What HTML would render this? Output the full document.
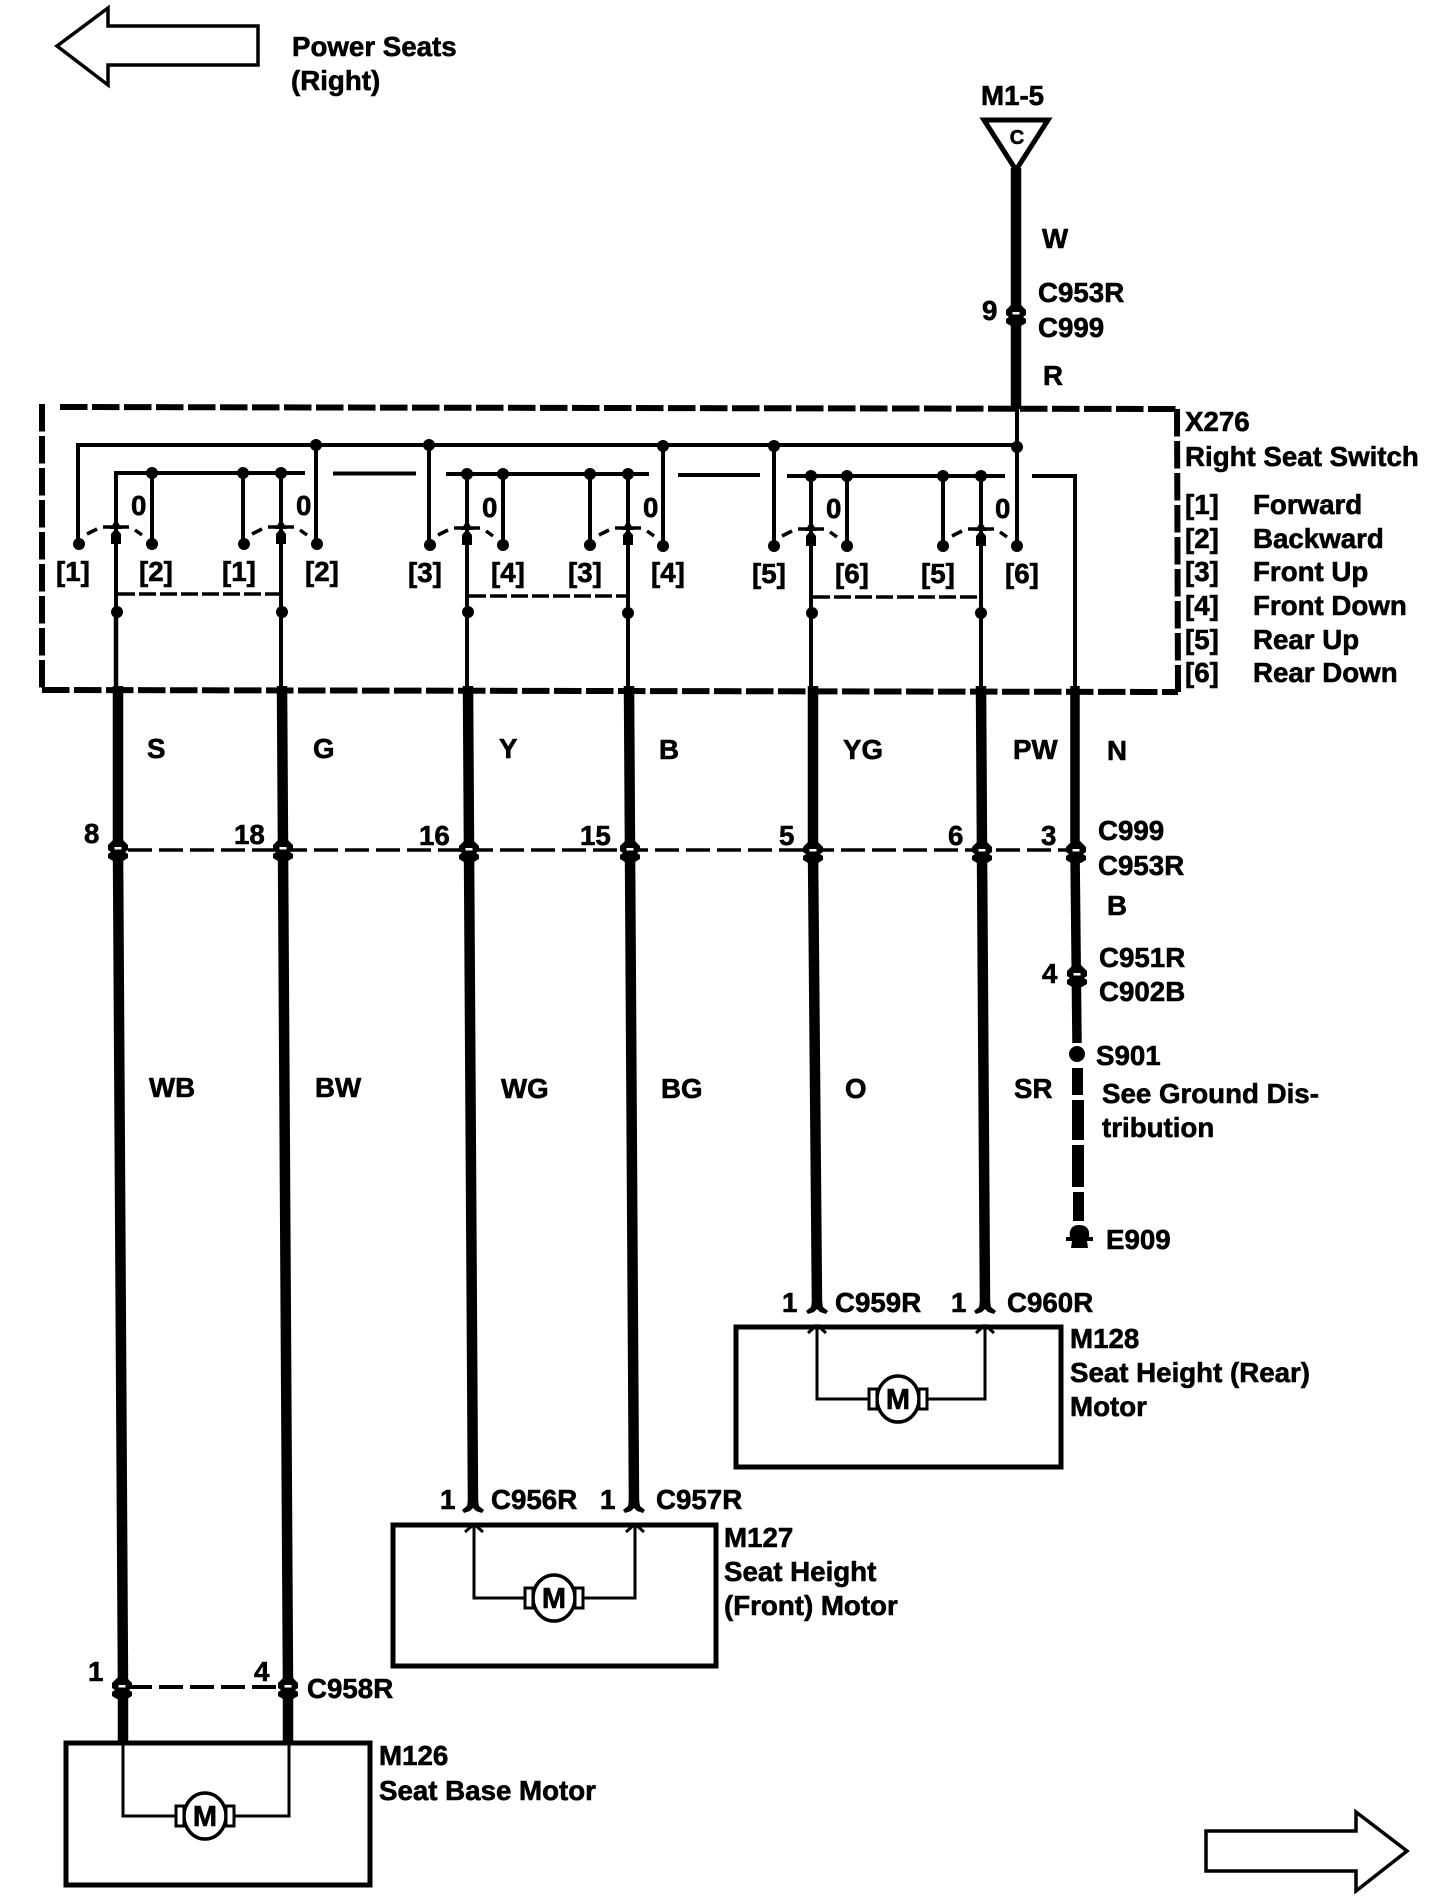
<!DOCTYPE html>
<html>
<head>
<meta charset="utf-8">
<style>
html,body{margin:0;padding:0;background:#fff}
svg{display:block}
text{font-family:"Liberation Sans",sans-serif;font-weight:bold;font-size:27.7px;fill:#000;stroke:#000;stroke-width:.6px}
</style>
</head>
<body>
<svg width="1440" height="1902" viewBox="0 0 1440 1902" xmlns="http://www.w3.org/2000/svg">
<defs>
<g id="sw">
<path d="M-13,0H13" stroke="#000" stroke-width="3.5" fill="none"/>
<path d="M-29,7L-19,2M19,3L26,8" stroke="#000" stroke-width="3.5" fill="none"/>
<path d="M0,-8L6,2H-6Z" fill="#000"/>
<path d="M0,1L5,7V17H-5V7Z" fill="#000"/>
</g>
<g id="conn">
<path d="M-4,-10H4L10,-4V1L7,3L10,5V9L5,12H-5L-10,9V5L-7,3L-10,1V-4Z" fill="#000"/>
<rect x="-3.5" y="-2" width="7" height="2.5" fill="#fff"/>
</g>
<g id="flare">
<path d="M-5,-10L-6,-4L-11,0L-9,3L-3,1L0,-2L3,1L9,3L11,0L6,-4L5,-10Z" fill="#000"/>
</g>
<g id="head">
<path d="M0,0V10M0,0L-9,8M0,0L9,8" stroke="#000" stroke-width="3" fill="none"/>
</g>
<g id="motor">
<ellipse cx="0" cy="0" rx="21" ry="23" fill="#fff" stroke="#000" stroke-width="3.5"/>
<rect x="-29" y="-10" width="8" height="20" fill="#fff" stroke="#000" stroke-width="3"/>
<rect x="21" y="-10" width="8" height="20" fill="#fff" stroke="#000" stroke-width="3"/>
<text x="0" y="10" text-anchor="middle" style="font-size:29px">M</text>
</g>
</defs>

<!-- page arrows -->
<path d="M57,46L108,8V26H258V65H108V85Z" fill="#fff" stroke="#000" stroke-width="3.5" stroke-linejoin="miter"/>
<path d="M1206,1831H1356V1812L1407,1851L1356,1891V1871H1206Z" fill="#fff" stroke="#000" stroke-width="3.5"/>
<text x="292" y="56">Power Seats</text>
<text x="291" y="90">(Right)</text>

<!-- switch box -->
<g fill="none" stroke="#000" stroke-width="6" stroke-dasharray="27.5 4.5">
<path d="M60,407L1177,409"/>
<path d="M42,404V690"/>
<path d="M42,690L1178,692"/>
<path d="M1177,409L1178,692"/>
</g>

<!-- switch buses -->
<g fill="none" stroke="#000" stroke-width="4">
<path d="M78,544V445H1017"/>
<path d="M116,612V473H305"/>
<path d="M333,473.5H416"/>
<path d="M446,474H649"/>
<path d="M678,475H760"/>
<path d="M787,476H1005"/>
<path d="M1032,476H1075V690"/>
<path d="M152,473V544M243,473V544M281,473V690M316,445V544M429,445V544"/>
<path d="M467,474V690M503,474V546M590,474V546M628,474V690M663,446V546"/>
<path d="M774,446V546M811,476V690M847,476V546M943,476V546M981,476V690"/>
<path d="M1017,409V546"/>
<path d="M116,612V690" stroke-width="4.5"/>
</g>
<g fill="none" stroke="#000" stroke-width="3.5" stroke-dasharray="17 4">
<path d="M118,594H281"/>
<path d="M469,596H628"/>
<path d="M813,597H981"/>
</g>

<!-- switch dots -->
<g fill="#000">
<circle cx="316" cy="445" r="6"/><circle cx="429" cy="445" r="6"/><circle cx="663" cy="446" r="6"/><circle cx="774" cy="446" r="6"/><circle cx="1017" cy="447" r="6"/>
<circle cx="152" cy="473" r="6"/><circle cx="243" cy="473" r="6"/><circle cx="281" cy="473" r="6"/>
<circle cx="467" cy="474" r="6"/><circle cx="503" cy="474" r="6"/><circle cx="590" cy="474" r="6"/><circle cx="628" cy="474" r="6"/>
<circle cx="811" cy="476" r="6"/><circle cx="847" cy="476" r="6"/><circle cx="943" cy="476" r="6"/><circle cx="981" cy="476" r="6"/>
<circle cx="79" cy="544" r="6"/><circle cx="152" cy="544" r="6"/><circle cx="244" cy="544" r="6"/><circle cx="317" cy="544" r="6"/>
<circle cx="430" cy="545" r="6"/><circle cx="503" cy="545" r="6"/><circle cx="590" cy="545" r="6"/><circle cx="663" cy="546" r="6"/>
<circle cx="774" cy="546" r="6"/><circle cx="847" cy="546" r="6"/><circle cx="943" cy="546" r="6"/><circle cx="1017" cy="546" r="6"/>
<circle cx="117" cy="612" r="6"/><circle cx="282" cy="612" r="6"/><circle cx="468" cy="612" r="6"/><circle cx="628" cy="613" r="6"/><circle cx="812" cy="613" r="6"/><circle cx="981" cy="613" r="6"/>
</g>
<use href="#sw" x="116" y="527"/><use href="#sw" x="281" y="527"/>
<use href="#sw" x="467" y="528"/><use href="#sw" x="628" y="528"/>
<use href="#sw" x="811" y="529"/><use href="#sw" x="981" y="529"/>

<!-- thick wires -->
<g fill="none" stroke="#000" stroke-width="10.5">
<path d="M1016,168V409"/>
<path d="M118,686V850L123,1687V1743"/>
<path d="M282,686L283,850L288,1687V1743"/>
<path d="M468,686L469,850L473,1505"/>
<path d="M629,686L630,850L634,1505"/>
<path d="M813,686V852L817,1306"/>
<path d="M981,686L982,852L985,1306"/>
<path d="M1075,686V852L1077,1043" stroke-width="9.5"/>
</g>

<!-- triangle -->
<path d="M984,120H1048L1016,170Z" fill="#fff" stroke="#000" stroke-width="5"/>
<text x="1017" y="144" text-anchor="middle" style="font-size:20px">C</text>

<!-- connector row -->
<path d="M128,850H1070" fill="none" stroke="#000" stroke-width="3.5" stroke-dasharray="24 7"/>
<path d="M128,1687H280" fill="none" stroke="#000" stroke-width="4" stroke-dasharray="24 7"/>
<use href="#conn" x="118" y="849"/><use href="#conn" x="283" y="849"/><use href="#conn" x="469" y="850"/><use href="#conn" x="630" y="850"/><use href="#conn" x="813" y="851"/><use href="#conn" x="982" y="851"/><use href="#conn" x="1076" y="851"/>
<use href="#conn" x="1016" y="314"/><use href="#conn" x="1077" y="975"/>
<use href="#conn" x="122" y="1687"/><use href="#conn" x="288" y="1687"/>

<!-- ground wire -->
<circle cx="1077" cy="1054" r="8" fill="#000"/>
<g fill="#000">
<rect x="1072" y="1068" width="11" height="27"/>
<rect x="1072" y="1100" width="12" height="40"/>
<rect x="1072" y="1145" width="12" height="42"/>
<rect x="1073" y="1192" width="11" height="29"/>
<path d="M1079,1225C1088,1225 1090,1231 1089,1237H1093V1241H1087L1088,1248H1071L1072,1241H1066V1237H1070C1069,1231 1071,1225 1079,1225Z"/>
</g>

<!-- wire end flares -->
<use href="#flare" x="817" y="1311"/><use href="#flare" x="985" y="1311"/>
<use href="#flare" x="473" y="1510"/><use href="#flare" x="634" y="1510"/>

<!-- M128 -->
<rect x="736" y="1327" width="325" height="140" fill="none" stroke="#000" stroke-width="5"/>
<path d="M817,1327V1399H985V1327" fill="none" stroke="#000" stroke-width="3"/>
<use href="#head" x="817" y="1325"/><use href="#head" x="985" y="1325"/>
<use href="#motor" x="898" y="1399"/>

<!-- M127 -->
<rect x="393" y="1525" width="323" height="141" fill="none" stroke="#000" stroke-width="5"/>
<path d="M474,1525V1598H635V1525" fill="none" stroke="#000" stroke-width="3"/>
<use href="#head" x="474" y="1524"/><use href="#head" x="635" y="1524"/>
<use href="#motor" x="554" y="1598"/>

<!-- M126 -->
<rect x="66" y="1743" width="304" height="142" fill="none" stroke="#000" stroke-width="5"/>
<path d="M123,1743V1816H289V1743" fill="none" stroke="#000" stroke-width="3"/>
<use href="#motor" x="205" y="1816"/>

<!-- labels top -->
<text x="981" y="105">M1-5</text>
<text x="1042" y="248">W</text>
<text x="1038" y="302">C953R</text>
<text x="982" y="320">9</text>
<text x="1038" y="337">C999</text>
<text x="1043" y="385">R</text>
<text x="1185" y="431">X276</text>
<text x="1185" y="466">Right Seat Switch</text>
<text x="1185" y="514">[1]</text><text x="1253" y="514">Forward</text>
<text x="1185" y="548">[2]</text><text x="1253" y="548">Backward</text>
<text x="1185" y="581">[3]</text><text x="1253" y="581">Front Up</text>
<text x="1185" y="615">[4]</text><text x="1253" y="615">Front Down</text>
<text x="1185" y="649">[5]</text><text x="1253" y="649">Rear Up</text>
<text x="1185" y="682">[6]</text><text x="1253" y="682">Rear Down</text>

<!-- switch labels -->
<text x="131" y="515">0</text><text x="296" y="515">0</text><text x="482" y="517">0</text><text x="643" y="517">0</text><text x="826" y="518">0</text><text x="995" y="518">0</text>
<text x="56" y="581">[1]</text><text x="139" y="581">[2]</text><text x="222" y="581">[1]</text><text x="305" y="581">[2]</text>
<text x="408" y="582">[3]</text><text x="491" y="582">[4]</text><text x="568" y="582">[3]</text><text x="651" y="582">[4]</text>
<text x="752" y="583">[5]</text><text x="835" y="583">[6]</text><text x="921" y="583">[5]</text><text x="1005" y="583">[6]</text>

<!-- wire colours -->
<text x="147" y="758">S</text><text x="313" y="758">G</text><text x="499" y="758">Y</text><text x="659" y="759">B</text>
<text x="843" y="759">YG</text><text x="1013" y="759">PW</text><text x="1107" y="760">N</text>
<text x="84" y="843">8</text><text x="234" y="844">18</text><text x="419" y="845">16</text><text x="580" y="845">15</text><text x="779" y="845">5</text><text x="948" y="845">6</text><text x="1041" y="845">3</text>
<text x="1098" y="840">C999</text><text x="1098" y="875">C953R</text>
<text x="1107" y="915">B</text>
<text x="1099" y="967">C951R</text><text x="1042" y="983">4</text><text x="1099" y="1001">C902B</text>
<text x="1096" y="1065">S901</text>
<text x="1102" y="1103">See Ground Dis-</text>
<text x="1102" y="1137">tribution</text>
<text x="1106" y="1249">E909</text>
<text x="149" y="1097">WB</text><text x="315" y="1097">BW</text><text x="501" y="1098">WG</text><text x="661" y="1098">BG</text><text x="845" y="1098">O</text><text x="1014" y="1098">SR</text>

<!-- connectors -->
<text x="782" y="1312">1</text><text x="835" y="1312">C959R</text><text x="951" y="1312">1</text><text x="1007" y="1312">C960R</text>
<text x="1070" y="1348">M128</text>
<text x="1070" y="1382">Seat Height (Rear)</text>
<text x="1070" y="1416">Motor</text>
<text x="440" y="1509">1</text><text x="491" y="1509">C956R</text><text x="600" y="1509">1</text><text x="656" y="1509">C957R</text>
<text x="724" y="1547">M127</text>
<text x="724" y="1581">Seat Height</text>
<text x="724" y="1615">(Front) Motor</text>
<text x="88" y="1681">1</text><text x="254" y="1681">4</text><text x="307" y="1698">C958R</text>
<text x="379" y="1765">M126</text>
<text x="379" y="1800">Seat Base Motor</text>
</svg>
</body>
</html>
